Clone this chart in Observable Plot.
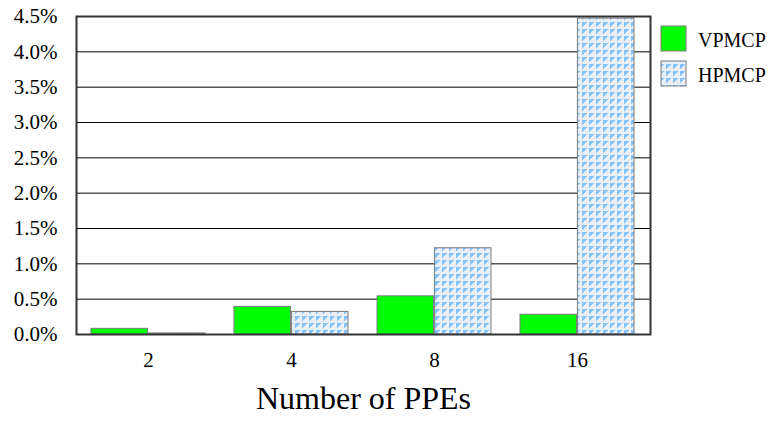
<!DOCTYPE html>
<html>
<head>
<meta charset="utf-8">
<script src="https://cdn.jsdelivr.net/npm/d3@7"></script>
<script src="https://cdn.jsdelivr.net/npm/@observablehq/plot@0.6"></script>
<style>
  html, body { margin: 0; padding: 0; background: #fff; }
  #chart { width: 776px; height: 429px; }
</style>
</head>
<body>
<div id="chart"></div>
<script>
// PPE counts and overhead per scheme (percent)
const groups = ["2", "4", "8", "16"];
const vpmcp = [0.08, 0.39, 0.54, 0.28];
const hpmcp = [0.015, 0.32, 1.22, 4.47];
const seriesNames = ["VPMCP", "HPMCP"];
const yTicks = [0, 0.5, 1, 1.5, 2, 2.5, 3, 3.5, 4, 4.5];
const xLabel = "Number of PPEs";

const W = 776, H = 429;
const margin = {top: 16, right: 126, bottom: 95, left: 76};
const padInner = 0.2, padOuter = 0.1;
const serif = "Liberation Serif";

const rowsV = groups.map((g, i) => ({group: g, value: vpmcp[i]}));
const rowsH = groups.map((g, i) => ({group: g, value: hpmcp[i]}));

// each group band holds two side-by-side bars
const band = d3.scaleBand()
  .domain(groups)
  .range([0, W - margin.left - margin.right])
  .paddingInner(padInner)
  .paddingOuter(padOuter)
  .bandwidth();
const half = band / 2;

const green = "#00ff00";
const barStroke = "#7a7a7a";

const plot = Plot.plot({
  width: W,
  height: H,
  marginTop: margin.top,
  marginRight: margin.right,
  marginBottom: margin.bottom,
  marginLeft: margin.left,
  x: {domain: groups, paddingInner: padInner, paddingOuter: padOuter},
  y: {domain: [0, 4.5]},
  marks: [
    Plot.ruleY(yTicks, {stroke: "#000", strokeWidth: 1}),
    Plot.barY(rowsV, {x: "group", y: "value", fill: green, stroke: barStroke, strokeWidth: 1, insetLeft: 0, insetRight: half}),
    Plot.barY(rowsH, {x: "group", y: "value", fill: "url(#hpmcp-pattern)", stroke: barStroke, strokeWidth: 1, insetLeft: half, insetRight: 0}),
    Plot.frame({stroke: "#333", strokeWidth: 2}),
    Plot.axisX({label: null, tickSize: 0, tickPadding: 18, fontFamily: serif, fontSize: 21, fill: "#000"}),
    Plot.axisY({ticks: yTicks, tickFormat: d => d.toFixed(1) + "%", label: null, tickSize: 0, tickPadding: 19, fontFamily: serif, fontSize: 21, fill: "#000"}),
    Plot.text([xLabel], {frameAnchor: "bottom", dy: 74, fontSize: 32, fontFamily: serif, textAnchor: "middle", fill: "#000"})
  ]
});

const svg = d3.select(plot).style("background", "#fff");
svg.selectAll("text").style("font-family", serif);

// tile for the HPMCP fill: pale cell with a stepped blue corner
const defs = svg.insert("defs", ":first-child");
const pat = defs.append("pattern")
  .attr("id", "hpmcp-pattern")
  .attr("patternUnits", "userSpaceOnUse")
  .attr("width", 7).attr("height", 7);
pat.append("rect").attr("width", 7).attr("height", 7).attr("fill", "#e9eff7");
pat.append("path")
  .attr("d", "M1,1H6V2H5V3H4V4H3V5H2V6H1Z")
  .attr("fill", "#86c3fb");

// legend in the right margin
const legend = svg.append("g")
  .attr("font-family", serif)
  .attr("font-size", 20)
  .attr("text-anchor", "start");
const swatchFills = [green, "url(#hpmcp-pattern)"];
seriesNames.forEach((name, i) => {
  const y0 = 26 + i * 35;
  legend.append("rect")
    .attr("x", 661).attr("y", y0).attr("width", 25).attr("height", 25)
    .attr("fill", swatchFills[i]).attr("stroke", barStroke).attr("stroke-width", 1);
  legend.append("text")
    .attr("x", 698).attr("y", y0 + 14).attr("dy", "0.35em")
    .attr("text-anchor", "start")
    .attr("fill", "#000")
    .style("font-family", serif)
    .text(name);
});

document.getElementById("chart").appendChild(plot);
</script>
</body>
</html>
